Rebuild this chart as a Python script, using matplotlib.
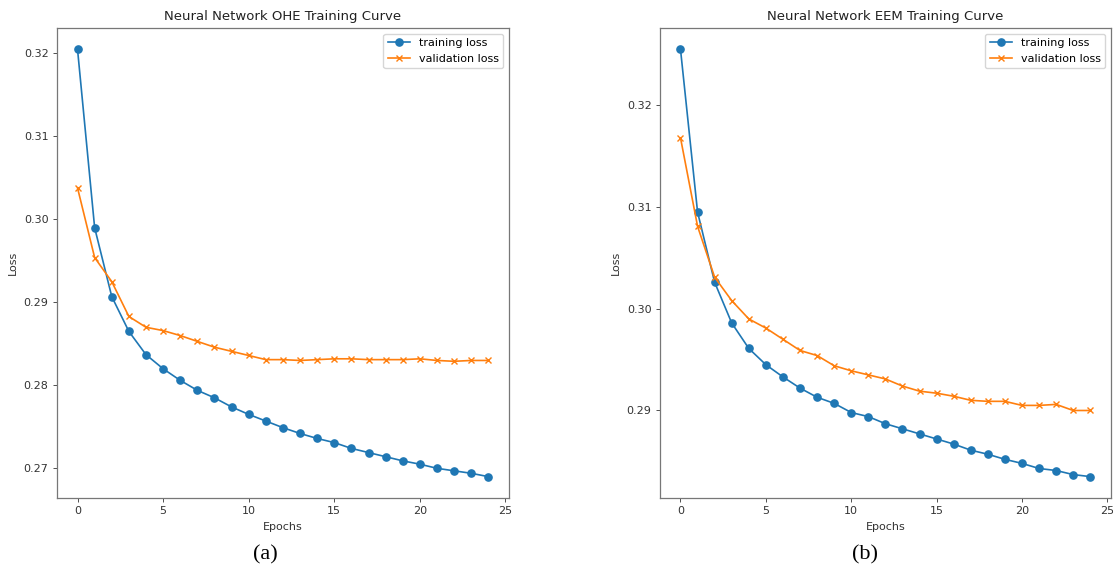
import numpy as np
import matplotlib
matplotlib.use('Agg')
import matplotlib.pyplot as plt

# =========================
# DADOS
# =========================
epochs = np.arange(25)

ohe_train = [0.3205, 0.2990, 0.2907, 0.2865, 0.2837, 0.2820, 0.2806, 0.2794,
             0.2785, 0.2774, 0.2765, 0.2757, 0.2749, 0.2742, 0.2736, 0.2731,
             0.2724, 0.2719, 0.2714, 0.2709, 0.2705, 0.2700, 0.2697, 0.2694,
             0.2690]
ohe_val = [0.3038, 0.2954, 0.2925, 0.2883, 0.2870, 0.2866, 0.2860, 0.2853,
           0.2846, 0.2841, 0.2836, 0.2831, 0.2831, 0.2830, 0.2831, 0.2832,
           0.2832, 0.2831, 0.2831, 0.2831, 0.2832, 0.2830, 0.2829, 0.2830,
           0.2830]

eem_train = [0.3255, 0.3095, 0.3026, 0.2986, 0.2961, 0.2945, 0.2933, 0.2922,
             0.2913, 0.2907, 0.2898, 0.2894, 0.2887, 0.2882, 0.2877, 0.2872,
             0.2867, 0.2861, 0.2857, 0.2852, 0.2848, 0.2843, 0.2841, 0.2837,
             0.2835]
eem_val = [0.3168, 0.3081, 0.3031, 0.3008, 0.2990, 0.2981, 0.2970, 0.2959,
           0.2954, 0.2944, 0.2939, 0.2935, 0.2931, 0.2924, 0.2919, 0.2917,
           0.2914, 0.2910, 0.2909, 0.2909, 0.2905, 0.2905, 0.2906, 0.2900,
           0.2900]

titles = ['Neural Network OHE Training Curve', 'Neural Network EEM Training Curve']
captions = ['(a)', '(b)']

# =========================
# PLOTS
# =========================
fig = plt.figure(figsize=(11.13, 5.72), dpi=100)

ax1 = fig.add_axes([0.0512, 0.1294, 0.406, 0.8217])
ax2 = fig.add_axes([0.593, 0.1294, 0.405, 0.8217])

dados = [(ax1, ohe_train, ohe_val), (ax2, eem_train, eem_val)]

for i, (ax, tr, va) in enumerate(dados):
    ax.plot(epochs, tr, marker='o', markersize=5.2, linewidth=1.2,
            color='tab:blue', label='training loss')
    ax.plot(epochs, va, marker='x', markersize=5, linewidth=1.2,
            color='tab:orange', label='validation loss')
    ax.set_title(titles[i], fontsize=9.5, color='#222222')
    ax.set_xlabel('Epochs', fontsize=8, color='#333333')
    ax.set_ylabel('Loss', fontsize=8, color='#333333')
    ax.tick_params(labelsize=8, length=2.6, width=0.6, colors='#333333')
    ax.set_xticks([0, 5, 10, 15, 20, 25])
    for s in ax.spines.values():
        s.set_color('#777777')
        s.set_linewidth(0.9)
    ax.legend(loc='upper right', fontsize=8)

fig.text(0.238, 0.030, captions[0], fontsize=16, family='Liberation Serif',
         ha='center', va='center')
fig.text(0.777, 0.030, captions[1], fontsize=16, family='Liberation Serif',
         ha='center', va='center')

fig.savefig('out.png', dpi=100)
